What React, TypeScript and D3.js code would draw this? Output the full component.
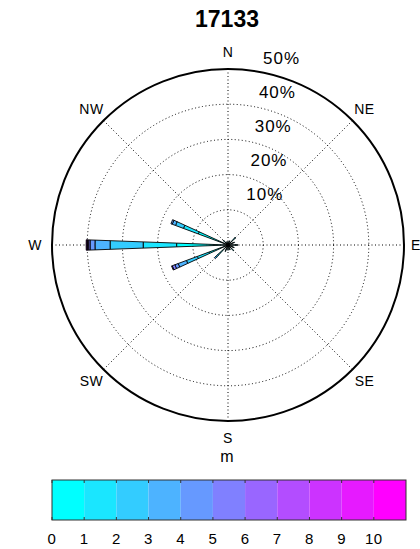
import React from "react";
import * as d3 from "d3";

const title = "17133";
const directions = [0, 22.5, 45, 67.5, 90, 112.5, 135, 157.5, 180, 202.5, 225, 247.5, 270, 292.5, 315, 337.5];
const compassLabels = ["N", "NE", "E", "SE", "S", "SW", "W", "NW"];
const compassAngles = [0, 45, 90, 135, 180, 225, 270, 315];
const ringValues = [10, 20, 30, 40, 50];
const speedTicks = [0, 1, 2, 3, 4, 5, 6, 7, 8, 9, 10];
const unitLabel = "m";

// frequency (%) per speed bin (0-1, 1-2, ...) for each direction
const freqN = [0.8, 0.2];
const freqNNE = [1.0, 0.3];
const freqNE = [2.2, 0.6, 0.2];
const freqENE = [1.6, 0.4];
const freqE = [2.3, 0.5];
const freqESE = [1.6, 0.3];
const freqSE = [1.8, 0.5];
const freqSSE = [1.2, 0.3];
const freqS = [1.2, 0.3];
const freqSSW = [1.6, 0.4];
const freqSW = [3.0, 1.0, 0.8, 0.5];
const freqWSW = [5.8, 3.5, 3.3, 2.5, 1.0, 0.8, 0.2];
const freqW = [14.6, 9.5, 9.4, 4.3, 1.4, 0.4, 0.3, 0.2, 0.2];
const freqWNW = [9.0, 4.5, 2.4, 1.0, 0.4];
const freqNW = [1.5, 0.4];
const freqNNW = [0.8, 0.2];

const freqs = [freqN, freqNNE, freqNE, freqENE, freqE, freqESE, freqSE, freqSSE, freqS, freqSSW, freqSW, freqWSW, freqW, freqWNW, freqNW, freqNNW];

const W = 420;
const H = 549;
const cx = 228;
const cy = 245;
const R = 176;
const FONT = "'Liberation Sans', Arial, Helvetica, sans-serif";

export default function App() {
  const r = d3.scaleLinear().domain([0, 50]).range([0, R]);
  const color = (i: number) => d3.interpolateRgb("#00ffff", "#ff00ff")(i / 10);
  const halfW = (2.1 * Math.PI) / 180;
  const arc = d3.arc<any>();

  const petals: any[] = [];
  directions.forEach((dir, di) => {
    const vals = freqs[di];
    let acc = 0;
    const a = (dir * Math.PI) / 180;
    vals.forEach((v, bi) => {
      const r0 = r(acc);
      acc += v;
      const r1 = r(acc);
      petals.push({ key: `${di}-${bi}`, d: arc({ innerRadius: r0, outerRadius: r1, startAngle: a - halfW, endAngle: a + halfW }), fill: color(bi) });
    });
  });

  const toXY = (deg: number, rad: number) => {
    const a = (deg * Math.PI) / 180;
    return [cx + rad * Math.sin(a), cy - rad * Math.cos(a)];
  };

  const cbX0 = 52;
  const cbX1 = 406;
  const cbY0 = 480;
  const cbY1 = 520;
  const cbScale = d3.scaleLinear().domain([0, 11]).range([cbX0, cbX1]);

  return (
    <svg width={W} height={H} style={{ position: "absolute", left: 0, top: 0, background: "#fff" }} fontFamily={FONT}>
      <rect x={0} y={0} width={W} height={H} fill="#fff" />
      <text x={227} y={27} textAnchor="middle" fontWeight="bold" fontSize={23}>{title}</text>

      {/* dotted rings */}
      {ringValues.slice(0, -1).map((v) => (
        <circle key={v} cx={cx} cy={cy} r={r(v)} fill="none" stroke="#000" strokeWidth={1} strokeDasharray="1 2.5" />
      ))}
      {/* dotted radial lines */}
      {compassAngles.map((a) => {
        const [x, y] = toXY(a, R);
        return <line key={a} x1={cx} y1={cy} x2={x} y2={y} stroke="#000" strokeWidth={1} strokeDasharray="1 2.5" />;
      })}
      <circle cx={cx} cy={cy} r={R} fill="none" stroke="#000" strokeWidth={2} />

      {/* petals */}
      <g transform={`translate(${cx},${cy})`}>
        {petals.map((p) => (
          <path key={p.key} d={p.d} fill={p.fill} stroke="#000" strokeWidth={0.9} />
        ))}
      </g>

      {/* percent labels */}
      {ringValues.map((v) => (
        <text key={v} x={cx + 14 + 0.12 * r(v)} y={cy - 16 - 0.967 * r(v)} dominantBaseline="central" fontSize={17} letterSpacing={1}>
          {v}%
        </text>
      ))}

      {/* compass labels */}
      {compassLabels.map((l, i) => {
        const [x, y] = toXY(compassAngles[i], l === "E" ? 188 : 193);
        return (
          <text key={l} x={x} y={y} textAnchor="middle" dominantBaseline="central" fontSize={14} letterSpacing={0.5}>
            {l}
          </text>
        );
      })}
      <text x={227} y={462} textAnchor="middle" fontSize={16}>{unitLabel}</text>

      {/* colorbar */}
      {speedTicks.map((t) => (
        <rect key={t} x={cbScale(t)} y={cbY0} width={cbScale(t + 1) - cbScale(t)} height={cbY1 - cbY0} fill={color(t)} />
      ))}
      <rect x={cbX0} y={cbY0} width={cbX1 - cbX0} height={cbY1 - cbY0} fill="none" stroke="#333" strokeWidth={1} />
      {speedTicks.map((t) => (
        <g key={t}>
          <line x1={cbScale(t)} x2={cbScale(t)} y1={cbY0} y2={cbY0 + 3} stroke="#333" />
          <line x1={cbScale(t)} x2={cbScale(t)} y1={cbY1} y2={cbY1 - 3} stroke="#333" />
          <text x={cbScale(t)} y={544} textAnchor="middle" fontSize={15} letterSpacing={0.5}>{t}</text>
        </g>
      ))}
    </svg>
  );
}
